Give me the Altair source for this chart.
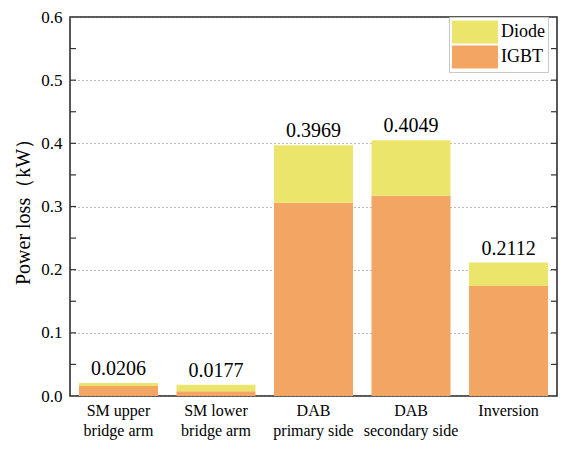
import altair as alt
import pandas as pd

categories = ["SM upper\nbridge arm", "SM lower\nbridge arm", "DAB\nprimary side",
              "DAB\nsecondary side", "Inversion"]
igbt = [0.0157, 0.0076, 0.3060, 0.3170, 0.1740]
diode = [0.0049, 0.0101, 0.0909, 0.0879, 0.0372]
totals = [0.0206, 0.0177, 0.3969, 0.4049, 0.2112]
series = ["Diode", "IGBT"]
y_ticks = [0.0, 0.1, 0.2, 0.3, 0.4, 0.5, 0.6]
minor_ticks = [0.05, 0.1, 0.15, 0.2, 0.25, 0.3, 0.35, 0.4, 0.45, 0.5, 0.55]

W, H = 487, 379
FONT = "Times New Roman, Liberation Serif, serif"
colors = ["#ECE56C", "#F3A564"]

rows = []
for c, i, d in zip(categories, igbt, diode):
    rows.append({"cat": c, "part": "IGBT", "value": i, "ord": 0})
    rows.append({"cat": c, "part": "Diode", "value": d, "ord": 1})
df = pd.DataFrame(rows)
df_tot = pd.DataFrame({"cat": categories, "total": totals})
df_ticks = pd.DataFrame({"v": minor_ticks})

xenc = alt.X("cat:N", sort=categories,
             scale=alt.Scale(paddingInner=0.19, paddingOuter=0.092),
             axis=alt.Axis(title=None, ticks=False, domain=False, labelAngle=0,
                           labelExpr="split(datum.label, '\\n')",
                           labelFontSize=16, labelPadding=6, labelLineHeight=20))
yscale = alt.Scale(domain=[0, 0.6], nice=False)

bars = alt.Chart(df).mark_bar().encode(
    x=xenc,
    y=alt.Y("value:Q", stack="zero", scale=yscale,
            axis=alt.Axis(title="Power loss（kW）", values=y_ticks, format=".1f",
                          ticks=False, domain=False, grid=True,
                          gridDash=[1, 3], gridColor="#777777", gridWidth=1,
                          labelFontSize=17, labelPadding=8, titleFontSize=20,
                          titlePadding=7)),
    color=alt.Color("part:N", scale=alt.Scale(domain=series, range=colors),
                    legend=alt.Legend(title=None, orient="none", legendX=379, legendY=0,
                                      symbolType="M-1,-0.96H2.83V0.96H-1Z",
                                      symbolSize=576, symbolStrokeWidth=0,
                                      symbolOpacity=1,
                                      labelOffset=25, padding=3, rowPadding=1,
                                      strokeColor="#c8c8c8", fillColor="white",
                                      labelFontSize=18, labelColor="black")),
    order=alt.Order("ord:Q"),
)

labels = alt.Chart(df_tot).mark_text(fontSize=20, baseline="bottom",
                                     dy=-4, color="black").encode(
    x=alt.X("cat:N", sort=categories),
    y=alt.Y("total:Q", scale=yscale),
    text=alt.Text("total:Q", format=".4f"),
)

ticks_left = alt.Chart(df_ticks).mark_rule(color="#333333", strokeWidth=1.2).encode(
    y=alt.Y("v:Q", scale=yscale), x=alt.value(0), x2=alt.value(6))
ticks_right = alt.Chart(df_ticks).mark_rule(color="#333333", strokeWidth=1.2).encode(
    y=alt.Y("v:Q", scale=yscale), x=alt.value(W - 6), x2=alt.value(W))

chart = alt.layer(bars, labels, ticks_left, ticks_right).properties(
    width=W, height=H,
    autosize=alt.AutoSizeParams(type="none"),
    padding={"left": 62, "top": 9, "right": 3, "bottom": 46},
).configure(font=FONT, background="white").configure_view(
    stroke="#222222", strokeWidth=1.5
).configure_axis(
    labelFont=FONT, titleFont=FONT, labelColor="black", titleColor="black",
    titleFontWeight="normal",
).configure_legend(labelFont=FONT).configure_text(font=FONT)

chart.save("out.html", embed_options={"renderer": "svg", "actions": False})
